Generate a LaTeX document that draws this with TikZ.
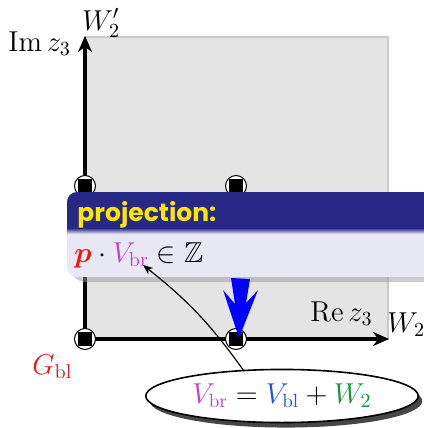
\documentclass[tikz,border=0pt]{standalone}
\usepackage{fontspec}
\usepackage{amsmath,amssymb}
\newfontfamily\hdr{Poppins}
\usetikzlibrary{arrows.meta,shapes.geometric,calc,shadows}
\definecolor{graybg}{RGB}{228,228,228}
\definecolor{grayedge}{RGB}{200,200,200}
\definecolor{navy}{RGB}{40,40,135}
\definecolor{bodycol}{RGB}{232,232,244}
\definecolor{hdryellow}{RGB}{255,230,0}
\definecolor{vmag}{RGB}{200,60,200}
\definecolor{vblue}{RGB}{30,80,255}
\definecolor{vgreen}{RGB}{20,150,50}
\definecolor{vred}{RGB}{240,20,20}
\tikzset{
  axis/.style={line width=2.3pt,-{Stealth[length=8pt,width=7pt]}},
  dotc/.style={circle,draw=black,fill=white,line width=0.5pt,minimum size=10.5pt,inner sep=0pt,
    path picture={\fill[black] ($(path picture bounding box.center)+(-3.3pt,-3.3pt)$) rectangle +(6.6pt,6.6pt);}},
  lbl/.style={inner sep=0pt,font=\Large},
}
\begin{document}
\begin{tikzpicture}[x=0.5pt,y=-0.5pt]
\useasboundingbox (0,0) rectangle (423,428);
% background region
\fill[graybg,draw=grayedge,line width=1pt] (85,37) rectangle (388,339);
% axes
\coordinate (O) at (85,339);
\coordinate (Y) at (85,36);
\coordinate (X) at (389,339);
\draw[axis] (O) -- (Y);
\draw[axis] (O) -- (X);
% labels
\node[lbl,anchor=base west] (im) at (8,51) {$\mathrm{Im}\,z_3$};
\node[lbl,anchor=base west] (wp) at (82,30) {$W_2'$};
\node[lbl,anchor=base west] (re) at (310,321) {$\mathrm{Re}\,z_3$};
\node[lbl,anchor=base west] (w2) at (387,332) {$W_2$};
\node[lbl,anchor=base west,text=vred] (gbl) at (32,374) {$G_{\mathrm{bl}}$};
% dots
\node[dotc] (d1) at (85,186) {};
\node[dotc] (d2) at (236,186) {};
\node[dotc] (d3) at (85,339) {};
\node[dotc] (d4) at (236,339) {};
% projection box
\fill[black!40,opacity=0.5,rounded corners=8pt] (70,199) rectangle (470,282);
\begin{scope}
\clip[rounded corners=5pt] (67,192) rectangle (470,277);
\fill[bodycol] (67,192) rectangle (470,277);
\fill[navy] (67,192) rectangle (470,228);
\shade[top color=navy,bottom color=bodycol] (67,228) rectangle (470,234);
\end{scope}
\node[anchor=base west,inner sep=0pt,text=hdryellow] (hd) at (77,221) {\hdr\bfseries\fontsize{12.5pt}{14pt}\selectfont projection:};
\node[lbl,anchor=base west] (bd) at (74,262) {$\color{vred}\boldsymbol{p}\color{black}\cdot{\color{vmag}V_{\mathrm{br}}}\in\mathbb{Z}$};
\coordinate (vbr) at (143,265);
% blue arrow
\fill[blue] (231,278) -- (250,279) -- (246,303) -- (258,290) -- (239,338) -- (223,290) -- (235,304) -- cycle;
% ellipse
\node[ellipse,draw=black,fill=white,line width=0.8pt,minimum width=136pt,minimum height=24pt,
  drop shadow={shadow xshift=2pt,shadow yshift=-2.5pt,fill=black!85,opacity=0.85}] (el) at (282,396)
  {\fontsize{13.7pt}{16pt}\selectfont$\color{vmag}V_{\mathrm{br}}\color{black}=\color{vblue}V_{\mathrm{bl}}\color{black}+\color{vgreen}W_2$};
\draw[line width=0.6pt,-{Stealth[length=5pt,width=4pt]}] (el.146) to[bend right=8] (vbr);
\end{tikzpicture}
\end{document}
